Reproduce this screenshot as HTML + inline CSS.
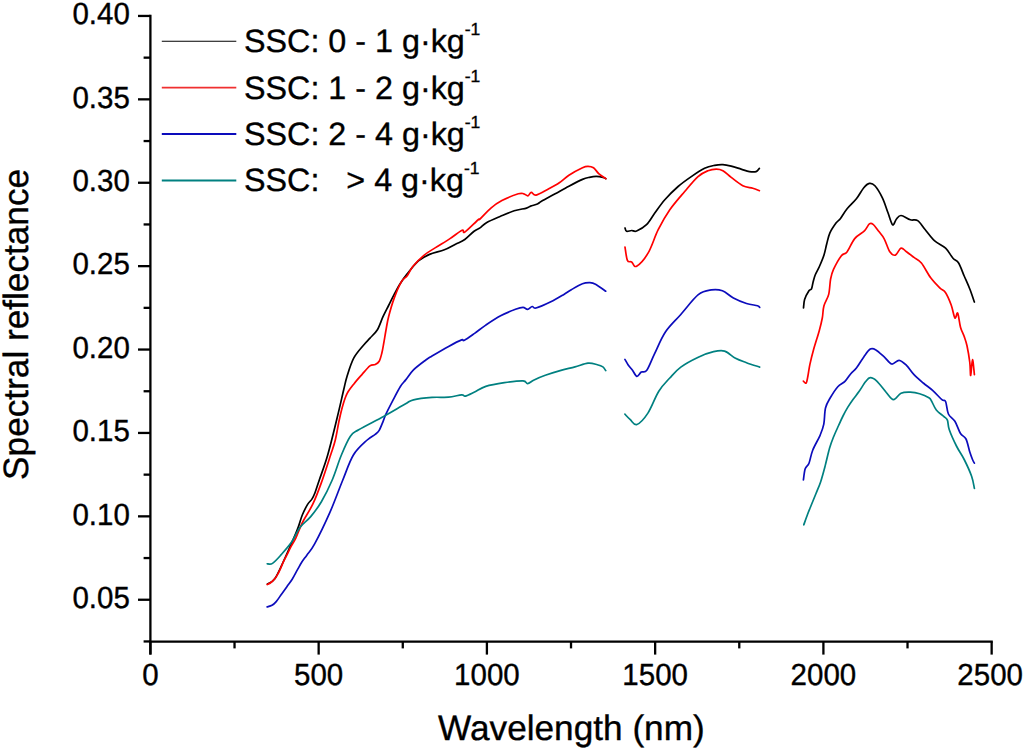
<!DOCTYPE html>
<html><head><meta charset="utf-8"><title>Spectral reflectance</title>
<style>
html,body{margin:0;padding:0;background:#fff;}
body{width:1024px;height:753px;overflow:hidden;}
svg{display:block;font-family:"Liberation Sans", sans-serif;fill:#000;text-rendering:geometricPrecision;}
</style></head>
<body>
<svg width="1024" height="753" viewBox="0 0 1024 753">
<rect width="1024" height="753" fill="#fff"/>
<line x1="150.4" y1="14.80" x2="150.4" y2="654.60" stroke="#000" stroke-width="2.3"/>
<line x1="149.25" y1="641.6" x2="992.80" y2="641.6" stroke="#000" stroke-width="2.3"/>
<line x1="138.0" y1="15.95" x2="150.4" y2="15.95" stroke="#000" stroke-width="2.3"/>
<line x1="143.6" y1="57.65" x2="150.4" y2="57.65" stroke="#000" stroke-width="2.3"/>
<line x1="138.0" y1="99.35" x2="150.4" y2="99.35" stroke="#000" stroke-width="2.3"/>
<line x1="143.6" y1="141.05" x2="150.4" y2="141.05" stroke="#000" stroke-width="2.3"/>
<line x1="138.0" y1="182.75" x2="150.4" y2="182.75" stroke="#000" stroke-width="2.3"/>
<line x1="143.6" y1="224.45" x2="150.4" y2="224.45" stroke="#000" stroke-width="2.3"/>
<line x1="138.0" y1="266.15" x2="150.4" y2="266.15" stroke="#000" stroke-width="2.3"/>
<line x1="143.6" y1="307.85" x2="150.4" y2="307.85" stroke="#000" stroke-width="2.3"/>
<line x1="138.0" y1="349.55" x2="150.4" y2="349.55" stroke="#000" stroke-width="2.3"/>
<line x1="143.6" y1="391.25" x2="150.4" y2="391.25" stroke="#000" stroke-width="2.3"/>
<line x1="138.0" y1="432.95" x2="150.4" y2="432.95" stroke="#000" stroke-width="2.3"/>
<line x1="143.6" y1="474.65" x2="150.4" y2="474.65" stroke="#000" stroke-width="2.3"/>
<line x1="138.0" y1="516.35" x2="150.4" y2="516.35" stroke="#000" stroke-width="2.3"/>
<line x1="143.6" y1="558.05" x2="150.4" y2="558.05" stroke="#000" stroke-width="2.3"/>
<line x1="138.0" y1="599.75" x2="150.4" y2="599.75" stroke="#000" stroke-width="2.3"/>
<line x1="143.6" y1="641.45" x2="150.4" y2="641.45" stroke="#000" stroke-width="2.3"/>
<line x1="150.40" y1="641.6" x2="150.40" y2="654.60" stroke="#000" stroke-width="2.3"/>
<line x1="234.53" y1="641.6" x2="234.53" y2="648.40" stroke="#000" stroke-width="2.3"/>
<line x1="318.65" y1="641.6" x2="318.65" y2="654.60" stroke="#000" stroke-width="2.3"/>
<line x1="402.78" y1="641.6" x2="402.78" y2="648.40" stroke="#000" stroke-width="2.3"/>
<line x1="486.90" y1="641.6" x2="486.90" y2="654.60" stroke="#000" stroke-width="2.3"/>
<line x1="571.02" y1="641.6" x2="571.02" y2="648.40" stroke="#000" stroke-width="2.3"/>
<line x1="655.15" y1="641.6" x2="655.15" y2="654.60" stroke="#000" stroke-width="2.3"/>
<line x1="739.27" y1="641.6" x2="739.27" y2="648.40" stroke="#000" stroke-width="2.3"/>
<line x1="823.40" y1="641.6" x2="823.40" y2="654.60" stroke="#000" stroke-width="2.3"/>
<line x1="907.52" y1="641.6" x2="907.52" y2="648.40" stroke="#000" stroke-width="2.3"/>
<line x1="991.65" y1="641.6" x2="991.65" y2="654.60" stroke="#000" stroke-width="2.3"/>
<text transform="translate(129.8 24.25) scale(1 1.035)" font-size="29.5" text-anchor="end" stroke="#000" stroke-width="0.35">0.40</text>
<text transform="translate(129.8 107.65) scale(1 1.035)" font-size="29.5" text-anchor="end" stroke="#000" stroke-width="0.35">0.35</text>
<text transform="translate(129.8 191.05) scale(1 1.035)" font-size="29.5" text-anchor="end" stroke="#000" stroke-width="0.35">0.30</text>
<text transform="translate(129.8 274.45) scale(1 1.035)" font-size="29.5" text-anchor="end" stroke="#000" stroke-width="0.35">0.25</text>
<text transform="translate(129.8 357.85) scale(1 1.035)" font-size="29.5" text-anchor="end" stroke="#000" stroke-width="0.35">0.20</text>
<text transform="translate(129.8 441.25) scale(1 1.035)" font-size="29.5" text-anchor="end" stroke="#000" stroke-width="0.35">0.15</text>
<text transform="translate(129.8 524.65) scale(1 1.035)" font-size="29.5" text-anchor="end" stroke="#000" stroke-width="0.35">0.10</text>
<text transform="translate(129.8 608.05) scale(1 1.035)" font-size="29.5" text-anchor="end" stroke="#000" stroke-width="0.35">0.05</text>
<text transform="translate(150.40 685.2) scale(1 1.035)" font-size="29.5" text-anchor="middle" stroke="#000" stroke-width="0.35">0</text>
<text transform="translate(318.65 685.2) scale(1 1.035)" font-size="29.5" text-anchor="middle" stroke="#000" stroke-width="0.35">500</text>
<text transform="translate(486.90 685.2) scale(1 1.035)" font-size="29.5" text-anchor="middle" stroke="#000" stroke-width="0.35">1000</text>
<text transform="translate(655.15 685.2) scale(1 1.035)" font-size="29.5" text-anchor="middle" stroke="#000" stroke-width="0.35">1500</text>
<text transform="translate(823.40 685.2) scale(1 1.035)" font-size="29.5" text-anchor="middle" stroke="#000" stroke-width="0.35">2000</text>
<text transform="translate(990.15 685.2) scale(1 1.035)" font-size="29.5" text-anchor="middle" stroke="#000" stroke-width="0.35">2500</text>
<text x="571.4" y="740.2" font-size="35.2" text-anchor="middle" stroke="#000" stroke-width="0.35">Wavelength (nm)</text>
<text transform="translate(27.6 324.4) rotate(-90)" x="0" y="0" font-size="35.2" text-anchor="middle" stroke="#000" stroke-width="0.35">Spectral reflectance</text>
<line x1="161.8" y1="41.25" x2="236.3" y2="41.25" stroke="#000000" stroke-width="1.2"/>
<text x="244.0" y="52.20" font-size="32.3" stroke="#000" stroke-width="0.35" xml:space="preserve">SSC: 0 - 1 g&#183;kg<tspan font-size="17.5" dy="-17.0">-1</tspan></text>
<line x1="161.8" y1="87.65" x2="236.3" y2="87.65" stroke="#f03030" stroke-width="1.7"/>
<text x="244.0" y="98.60" font-size="32.3" stroke="#000" stroke-width="0.35" xml:space="preserve">SSC: 1 - 2 g&#183;kg<tspan font-size="17.5" dy="-17.0">-1</tspan></text>
<line x1="161.8" y1="134.05" x2="236.3" y2="134.05" stroke="#0c0cbc" stroke-width="1.9"/>
<text x="244.0" y="145.00" font-size="32.3" stroke="#000" stroke-width="0.35" xml:space="preserve">SSC: 2 - 4 g&#183;kg<tspan font-size="17.5" dy="-17.0">-1</tspan></text>
<line x1="161.8" y1="180.45" x2="236.3" y2="180.45" stroke="#008080" stroke-width="1.9"/>
<text x="244.0" y="191.40" font-size="32.3" stroke="#000" stroke-width="0.35" xml:space="preserve">SSC: &#160;&#160;&gt; 4 g&#183;kg<tspan font-size="17.5" dy="-17.0">-1</tspan></text>
<path d="M267.50,584.00 C268.75,583.08 272.08,582.83 275.00,578.50 C277.92,574.17 281.52,565.57 285.00,558.00 C288.48,550.43 293.55,538.67 295.90,533.10 C298.25,527.53 298.03,527.62 299.10,524.60 C300.17,521.58 300.88,518.37 302.30,515.00 C303.72,511.63 306.00,507.05 307.60,504.40 C309.20,501.75 310.67,501.05 311.90,499.10 C313.13,497.15 313.77,495.88 315.00,492.70 C316.23,489.52 317.18,486.28 319.30,480.00 C321.42,473.72 324.73,465.33 327.70,455.00 C330.67,444.67 334.43,428.87 337.10,418.00 C339.77,407.13 342.05,396.72 343.70,389.80 C345.35,382.88 345.33,381.77 347.00,376.50 C348.67,371.23 350.92,363.45 353.70,358.20 C356.48,352.95 360.98,348.35 363.70,345.00 C366.42,341.65 367.72,340.65 370.00,338.10 C372.28,335.55 375.23,333.27 377.40,329.70 C379.57,326.13 381.13,320.73 383.00,316.70 C384.87,312.67 386.73,309.22 388.60,305.50 C390.47,301.78 392.33,297.95 394.20,294.40 C396.07,290.85 397.63,287.62 399.80,284.20 C401.97,280.78 404.10,277.78 407.20,273.90 C410.30,270.02 414.68,264.15 418.40,260.90 C422.12,257.65 425.17,256.25 429.50,254.40 C433.83,252.55 440.07,251.50 444.40,249.80 C448.73,248.10 452.10,245.92 455.50,244.20 C458.90,242.48 461.70,241.67 464.80,239.50 C467.90,237.33 471.57,233.13 474.10,231.20 C476.63,229.27 477.88,229.35 480.00,227.90 C482.12,226.45 483.38,224.43 486.80,222.50 C490.22,220.57 495.93,218.25 500.50,216.30 C505.07,214.35 509.87,212.17 514.20,210.80 C518.53,209.43 523.77,208.88 526.50,208.10 C529.23,207.32 528.78,206.78 530.60,206.10 C532.42,205.42 535.58,204.80 537.40,204.00 C539.22,203.20 538.53,203.00 541.50,201.30 C544.47,199.60 550.63,196.32 555.20,193.80 C559.77,191.28 564.35,188.60 568.90,186.20 C573.45,183.80 579.08,180.88 582.50,179.40 C585.92,177.92 587.12,177.80 589.40,177.30 C591.68,176.80 593.93,176.40 596.20,176.40 C598.47,176.40 601.40,176.92 603.00,177.30 C604.60,177.68 605.33,178.47 605.80,178.70" fill="none" stroke="#000000" stroke-width="1.7" stroke-linejoin="round" stroke-linecap="round"/>
<path d="M625.00,228.00 C625.27,228.55 625.50,230.88 626.60,231.30 C627.70,231.72 629.93,230.55 631.60,230.50 C633.27,230.45 634.12,231.97 636.60,231.00 C639.08,230.03 643.47,227.68 646.50,224.70 C649.53,221.72 651.75,217.25 654.80,213.10 C657.85,208.95 660.92,204.23 664.80,199.80 C668.68,195.37 673.68,190.37 678.10,186.50 C682.52,182.63 686.88,179.63 691.30,176.60 C695.72,173.57 700.72,170.18 704.60,168.30 C708.48,166.42 711.55,165.92 714.60,165.30 C717.65,164.68 720.13,164.47 722.90,164.60 C725.67,164.73 728.17,165.35 731.20,166.10 C734.23,166.85 738.07,168.18 741.10,169.10 C744.13,170.02 746.90,171.18 749.40,171.60 C751.90,172.02 754.43,172.15 756.10,171.60 C757.77,171.05 758.85,168.85 759.40,168.30" fill="none" stroke="#000000" stroke-width="1.7" stroke-linejoin="round" stroke-linecap="round"/>
<path d="M803.50,308.00 C803.68,306.57 803.72,302.23 804.60,299.40 C805.48,296.57 807.65,292.77 808.80,291.00 C809.95,289.23 810.80,290.22 811.50,288.80 C812.20,287.38 812.38,284.80 813.00,282.50 C813.62,280.20 814.13,277.67 815.20,275.00 C816.27,272.33 817.93,269.83 819.40,266.50 C820.87,263.17 822.78,258.75 824.00,255.00 C825.22,251.25 825.72,247.68 826.70,244.00 C827.68,240.32 828.32,236.43 829.90,232.90 C831.48,229.37 834.43,225.20 836.20,222.80 C837.97,220.40 838.72,220.80 840.50,218.50 C842.28,216.20 844.25,212.28 846.90,209.00 C849.55,205.72 853.58,202.35 856.40,198.80 C859.22,195.25 861.63,190.27 863.80,187.70 C865.97,185.13 867.55,183.72 869.40,183.40 C871.25,183.08 872.73,183.38 874.90,185.80 C877.07,188.22 880.22,193.40 882.40,197.90 C884.58,202.40 886.30,208.32 888.00,212.80 C889.70,217.28 891.22,223.72 892.60,224.80 C893.98,225.88 894.90,220.85 896.30,219.30 C897.70,217.75 898.67,215.42 901.00,215.50 C903.33,215.58 907.52,218.95 910.30,219.80 C913.08,220.65 915.23,218.98 917.70,220.60 C920.17,222.22 922.32,226.17 925.10,229.50 C927.88,232.83 930.98,237.50 934.40,240.60 C937.82,243.70 942.50,245.15 945.60,248.10 C948.70,251.05 950.83,255.82 953.00,258.30 C955.17,260.78 956.73,260.05 958.60,263.00 C960.47,265.95 962.33,271.67 964.20,276.00 C966.07,280.33 968.10,284.67 969.80,289.00 C971.50,293.33 973.63,299.83 974.40,302.00" fill="none" stroke="#000000" stroke-width="1.7" stroke-linejoin="round" stroke-linecap="round"/>
<path d="M267.20,584.60 C267.82,584.25 269.57,583.57 270.90,582.50 C272.23,581.43 273.95,579.78 275.20,578.20 C276.45,576.62 277.52,574.58 278.40,573.00 C279.28,571.42 279.62,570.67 280.50,568.70 C281.38,566.73 282.63,563.50 283.70,561.20 C284.77,558.90 285.67,557.37 286.90,554.90 C288.13,552.43 289.60,549.23 291.10,546.40 C292.60,543.57 294.05,541.80 295.90,537.90 C297.75,534.00 299.37,528.67 302.20,523.00 C305.03,517.33 309.70,510.63 312.90,503.90 C316.10,497.17 318.45,490.75 321.40,482.60 C324.35,474.45 328.28,462.10 330.60,455.00 C332.92,447.90 333.85,445.88 335.30,440.00 C336.75,434.12 337.97,425.73 339.30,419.70 C340.63,413.67 341.97,408.22 343.30,403.80 C344.63,399.38 345.53,396.52 347.30,393.20 C349.07,389.88 351.47,387.00 353.90,383.90 C356.33,380.80 359.23,377.60 361.90,374.60 C364.57,371.60 367.68,367.57 369.90,365.90 C372.12,364.23 373.65,365.37 375.20,364.60 C376.75,363.83 378.10,363.18 379.20,361.30 C380.30,359.42 381.07,356.18 381.80,353.30 C382.53,350.42 382.90,347.88 383.60,344.00 C384.30,340.12 385.17,334.55 386.00,330.00 C386.83,325.45 387.23,322.02 388.60,316.70 C389.97,311.38 392.03,303.98 394.20,298.10 C396.37,292.22 399.43,285.12 401.60,281.40 C403.77,277.68 405.33,278.28 407.20,275.80 C409.07,273.32 410.02,269.92 412.80,266.50 C415.58,263.08 420.18,258.40 423.90,255.30 C427.62,252.20 430.75,250.68 435.10,247.90 C439.45,245.12 445.50,241.55 450.00,238.60 C454.50,235.65 459.63,231.28 462.10,230.20 C464.57,229.12 462.17,233.80 464.80,232.10 C467.43,230.40 475.37,222.18 477.90,220.00 C480.43,217.82 477.83,220.98 480.00,219.00 C482.17,217.02 487.25,211.17 490.90,208.10 C494.55,205.03 497.33,202.98 501.90,200.60 C506.47,198.22 514.65,194.93 518.30,193.80 C521.95,192.67 522.20,193.47 523.80,193.80 C525.40,194.13 526.65,196.03 527.90,195.80 C529.15,195.57 529.93,192.52 531.30,192.40 C532.67,192.28 533.25,195.67 536.10,195.10 C538.95,194.53 544.53,191.05 548.40,189.00 C552.27,186.95 555.88,185.08 559.30,182.80 C562.72,180.52 565.03,177.80 568.90,175.30 C572.77,172.80 579.32,169.28 582.50,167.80 C585.68,166.32 586.17,166.40 588.00,166.40 C589.83,166.40 591.67,166.55 593.50,167.80 C595.33,169.05 596.95,172.08 599.00,173.90 C601.05,175.72 604.67,177.90 605.80,178.70" fill="none" stroke="#ff0000" stroke-width="1.7" stroke-linejoin="round" stroke-linecap="round"/>
<path d="M625.00,247.10 C625.40,249.32 626.30,257.92 627.40,260.40 C628.50,262.88 630.07,261.03 631.60,262.00 C633.13,262.97 633.83,267.72 636.60,266.20 C639.37,264.68 644.60,258.98 648.20,252.90 C651.80,246.82 654.60,236.88 658.20,229.70 C661.80,222.52 665.38,216.17 669.80,209.80 C674.22,203.43 680.00,197.03 684.70,191.50 C689.40,185.97 694.12,180.07 698.00,176.60 C701.88,173.13 704.97,171.95 708.00,170.70 C711.03,169.45 713.72,169.10 716.20,169.10 C718.68,169.10 720.40,169.32 722.90,170.70 C725.40,172.08 727.88,174.90 731.20,177.40 C734.52,179.90 739.20,183.90 742.80,185.70 C746.40,187.50 750.03,187.37 752.80,188.20 C755.57,189.03 758.30,190.28 759.40,190.70" fill="none" stroke="#ff0000" stroke-width="1.7" stroke-linejoin="round" stroke-linecap="round"/>
<path d="M803.40,381.10 C803.87,381.42 805.43,383.93 806.20,383.00 C806.97,382.07 807.38,378.60 808.00,375.50 C808.62,372.40 808.97,368.73 809.90,364.40 C810.83,360.07 812.05,355.08 813.60,349.50 C815.15,343.92 817.75,336.15 819.20,330.90 C820.65,325.65 821.52,322.15 822.30,318.00 C823.08,313.85 822.83,309.93 823.90,306.00 C824.97,302.07 827.58,298.90 828.70,294.40 C829.82,289.90 829.80,283.17 830.60,279.00 C831.40,274.83 831.73,273.25 833.50,269.40 C835.27,265.55 838.95,258.80 841.20,255.90 C843.45,253.00 844.75,254.88 847.00,252.00 C849.25,249.12 851.80,242.12 854.70,238.60 C857.60,235.08 861.95,233.35 864.40,230.90 C866.85,228.45 867.95,225.00 869.40,223.90 C870.85,222.80 871.55,223.07 873.10,224.30 C874.65,225.53 876.85,228.88 878.70,231.30 C880.55,233.72 882.35,235.38 884.20,238.80 C886.05,242.22 887.93,249.08 889.80,251.80 C891.67,254.52 893.53,255.72 895.40,255.10 C897.27,254.48 899.15,248.65 901.00,248.10 C902.85,247.55 904.33,250.25 906.50,251.80 C908.67,253.35 911.52,255.53 914.00,257.40 C916.48,259.27 918.62,259.60 921.40,263.00 C924.18,266.40 927.60,273.62 930.70,277.80 C933.80,281.98 937.52,285.62 940.00,288.10 C942.48,290.58 943.73,289.88 945.60,292.70 C947.47,295.52 949.65,300.80 951.20,305.00 C952.75,309.20 953.82,316.53 954.90,317.90 C955.98,319.27 956.77,311.65 957.70,313.20 C958.63,314.75 959.42,323.32 960.50,327.20 C961.58,331.08 963.12,333.40 964.20,336.50 C965.28,339.60 966.07,341.47 967.00,345.80 C967.93,350.13 969.18,357.55 969.80,362.50 C970.42,367.45 970.25,375.97 970.70,375.50 C971.15,375.03 971.88,359.85 972.50,359.70 C973.12,359.55 974.08,372.12 974.40,374.60" fill="none" stroke="#ff0000" stroke-width="1.7" stroke-linejoin="round" stroke-linecap="round"/>
<path d="M267.20,606.90 C268.00,606.63 270.50,606.18 272.00,605.30 C273.50,604.42 274.62,603.45 276.20,601.60 C277.78,599.75 279.72,596.68 281.50,594.20 C283.28,591.72 285.12,589.18 286.90,586.70 C288.68,584.22 290.43,582.13 292.20,579.30 C293.97,576.47 295.92,572.53 297.50,569.70 C299.08,566.87 300.12,564.77 301.70,562.30 C303.28,559.83 304.87,557.92 307.00,554.90 C309.13,551.88 310.68,551.28 314.50,544.20 C318.32,537.12 325.22,523.02 329.90,512.40 C334.58,501.78 338.68,490.07 342.60,480.50 C346.52,470.93 349.30,461.75 353.40,455.00 C357.50,448.25 363.57,443.43 367.20,440.00 C370.83,436.57 373.20,436.00 375.20,434.40 C377.20,432.80 377.87,432.62 379.20,430.40 C380.53,428.18 382.10,423.77 383.20,421.10 C384.30,418.43 384.25,417.73 385.80,414.40 C387.35,411.07 390.07,405.75 392.50,401.10 C394.93,396.45 398.20,390.03 400.40,386.50 C402.60,382.97 403.52,382.67 405.70,379.90 C407.88,377.13 410.15,373.22 413.50,369.90 C416.85,366.58 422.72,362.32 425.80,360.00 C428.88,357.68 428.20,358.27 432.00,356.00 C435.80,353.73 443.67,349.08 448.60,346.40 C453.53,343.72 458.97,340.92 461.60,339.90 C464.23,338.88 462.23,341.38 464.40,340.30 C466.57,339.22 471.03,335.93 474.60,333.40 C478.17,330.87 481.47,328.03 485.80,325.10 C490.13,322.17 495.65,318.43 500.60,315.80 C505.55,313.17 511.77,310.70 515.50,309.30 C519.23,307.90 520.98,307.40 523.00,307.40 C525.02,307.40 526.07,309.45 527.60,309.30 C529.13,309.15 530.80,306.72 532.20,306.50 C533.60,306.28 532.90,308.78 536.00,308.00 C539.10,307.22 546.15,304.07 550.80,301.80 C555.45,299.53 560.48,296.42 563.90,294.40 C567.32,292.38 568.22,291.47 571.30,289.70 C574.38,287.93 579.30,284.97 582.40,283.80 C585.50,282.63 587.72,282.63 589.90,282.70 C592.08,282.77 592.87,282.78 595.50,284.20 C598.13,285.62 604.00,290.03 605.70,291.20" fill="none" stroke="#0c0cbc" stroke-width="1.7" stroke-linejoin="round" stroke-linecap="round"/>
<path d="M624.90,359.40 C625.45,360.32 626.93,363.08 628.20,364.90 C629.47,366.72 631.05,368.40 632.50,370.30 C633.95,372.20 635.43,376.00 636.90,376.30 C638.37,376.60 639.65,373.10 641.30,372.10 C642.95,371.10 644.60,373.33 646.80,370.30 C649.00,367.27 651.40,360.28 654.50,353.90 C657.60,347.52 661.02,338.57 665.40,332.00 C669.78,325.43 675.32,320.72 680.80,314.50 C686.28,308.28 693.20,298.80 698.30,294.70 C703.40,290.60 707.38,290.55 711.40,289.90 C715.42,289.25 718.73,289.45 722.40,290.80 C726.07,292.15 729.38,295.88 733.40,298.00 C737.42,300.12 742.48,302.22 746.50,303.50 C750.52,304.78 755.30,305.05 757.50,305.70 C759.70,306.35 759.33,307.12 759.70,307.40" fill="none" stroke="#0c0cbc" stroke-width="1.7" stroke-linejoin="round" stroke-linecap="round"/>
<path d="M803.40,479.90 C803.70,478.05 804.27,471.58 805.20,468.80 C806.13,466.02 807.75,466.30 809.00,463.20 C810.25,460.10 810.85,454.85 812.70,450.20 C814.55,445.55 818.25,439.63 820.10,435.30 C821.95,430.97 822.90,428.75 823.80,424.20 C824.70,419.65 824.42,412.40 825.50,408.00 C826.58,403.60 828.25,401.35 830.30,397.80 C832.35,394.25 835.32,389.48 837.80,386.70 C840.28,383.92 843.03,383.27 845.20,381.10 C847.37,378.93 848.93,375.87 850.80,373.70 C852.67,371.53 854.23,370.90 856.40,368.10 C858.57,365.30 861.48,360.07 863.80,356.90 C866.12,353.73 868.28,350.27 870.30,349.10 C872.32,347.93 873.58,348.60 875.90,349.90 C878.22,351.20 881.57,354.55 884.20,356.90 C886.83,359.25 889.22,363.43 891.70,364.00 C894.18,364.57 896.63,360.08 899.10,360.30 C901.57,360.52 904.02,362.92 906.50,365.30 C908.98,367.68 911.20,371.65 914.00,374.60 C916.80,377.55 920.20,380.37 923.30,383.00 C926.40,385.63 929.50,387.62 932.60,390.40 C935.70,393.18 939.73,397.85 941.90,399.70 C944.07,401.55 944.52,399.12 945.60,401.50 C946.68,403.88 946.85,410.72 948.40,414.00 C949.95,417.28 952.88,417.95 954.90,421.20 C956.92,424.45 958.65,430.53 960.50,433.50 C962.35,436.47 964.45,435.90 966.00,439.00 C967.55,442.10 968.72,448.68 969.80,452.10 C970.88,455.52 971.73,457.65 972.50,459.50 C973.27,461.35 974.08,462.58 974.40,463.20" fill="none" stroke="#0c0cbc" stroke-width="1.7" stroke-linejoin="round" stroke-linecap="round"/>
<path d="M267.20,563.80 C268.08,563.73 270.20,564.88 272.50,563.40 C274.80,561.92 277.82,558.45 281.00,554.90 C284.18,551.35 288.42,546.72 291.60,542.10 C294.78,537.48 296.92,531.45 300.10,527.20 C303.28,522.95 307.15,520.85 310.70,516.60 C314.25,512.35 317.85,507.72 321.40,501.70 C324.95,495.68 328.67,488.28 332.00,480.50 C335.33,472.72 338.33,462.37 341.40,455.00 C344.47,447.63 347.52,440.52 350.40,436.30 C353.28,432.08 353.17,433.02 358.70,429.70 C364.23,426.38 375.85,420.68 383.60,416.40 C391.35,412.12 400.22,406.77 405.20,404.00 C410.18,401.23 409.03,400.90 413.50,399.80 C417.97,398.70 426.15,397.83 432.00,397.40 C437.85,396.97 443.67,397.63 448.60,397.20 C453.53,396.77 458.82,394.98 461.60,394.80 C464.38,394.62 463.13,396.57 465.30,396.10 C467.47,395.63 471.18,393.62 474.60,392.00 C478.02,390.38 480.83,387.95 485.80,386.40 C490.77,384.85 498.20,383.63 504.40,382.70 C510.60,381.77 519.13,380.65 523.00,380.80 C526.87,380.95 525.75,383.75 527.60,383.60 C529.45,383.45 531.15,381.28 534.10,379.90 C537.05,378.52 540.97,376.85 545.30,375.30 C549.63,373.75 555.15,372.00 560.10,370.60 C565.05,369.20 570.35,368.13 575.00,366.90 C579.65,365.67 584.28,363.57 588.00,363.20 C591.72,362.83 594.82,364.08 597.30,364.70 C599.78,365.32 601.50,365.92 602.90,366.90 C604.30,367.88 605.23,369.98 605.70,370.60" fill="none" stroke="#008080" stroke-width="1.7" stroke-linejoin="round" stroke-linecap="round"/>
<path d="M624.90,414.20 C625.80,415.12 628.30,417.98 630.30,419.70 C632.30,421.42 633.97,425.60 636.90,424.50 C639.83,423.40 644.25,418.65 647.90,413.10 C651.55,407.55 655.15,397.05 658.80,391.20 C662.45,385.35 666.13,382.02 669.80,378.00 C673.47,373.98 676.05,370.57 680.80,367.10 C685.55,363.63 692.83,359.77 698.30,357.20 C703.77,354.63 709.22,352.72 713.60,351.70 C717.98,350.68 720.95,350.00 724.60,351.10 C728.25,352.20 731.85,356.37 735.50,358.30 C739.15,360.23 742.47,361.23 746.50,362.70 C750.53,364.17 757.50,366.37 759.70,367.10" fill="none" stroke="#008080" stroke-width="1.7" stroke-linejoin="round" stroke-linecap="round"/>
<path d="M803.80,524.80 C804.42,523.08 806.22,517.88 807.50,514.50 C808.78,511.12 810.08,508.00 811.50,504.50 C812.92,501.00 814.48,497.27 816.00,493.50 C817.52,489.73 819.08,486.47 820.60,481.90 C822.12,477.33 823.60,471.75 825.10,466.10 C826.60,460.45 828.20,452.85 829.60,448.00 C831.00,443.15 832.00,440.75 833.50,437.00 C835.00,433.25 837.02,429.00 838.60,425.50 C840.18,422.00 841.48,419.02 843.00,416.00 C844.52,412.98 846.03,410.15 847.70,407.40 C849.37,404.65 851.12,402.13 853.00,399.50 C854.88,396.87 856.88,394.60 859.00,391.60 C861.12,388.60 863.82,383.82 865.70,381.50 C867.58,379.18 868.45,377.77 870.30,377.70 C872.15,377.63 874.17,378.68 876.80,381.10 C879.43,383.52 883.32,389.10 886.10,392.20 C888.88,395.30 891.02,399.53 893.50,399.70 C895.98,399.87 898.20,394.45 901.00,393.20 C903.80,391.95 907.20,392.12 910.30,392.20 C913.40,392.28 916.50,392.77 919.60,393.70 C922.70,394.63 926.92,396.58 928.90,397.80 C930.88,399.02 930.27,398.97 931.50,401.00 C932.73,403.03 934.27,407.43 936.30,410.00 C938.33,412.57 941.85,414.72 943.70,416.40 C945.55,418.08 946.47,417.88 947.40,420.10 C948.33,422.32 947.75,425.30 949.30,429.70 C950.85,434.10 954.22,441.53 956.70,446.50 C959.18,451.47 961.72,454.55 964.20,459.50 C966.68,464.45 969.90,471.40 971.60,476.20 C973.30,481.00 973.93,486.28 974.40,488.30" fill="none" stroke="#008080" stroke-width="1.7" stroke-linejoin="round" stroke-linecap="round"/>
</svg>
</body></html>
